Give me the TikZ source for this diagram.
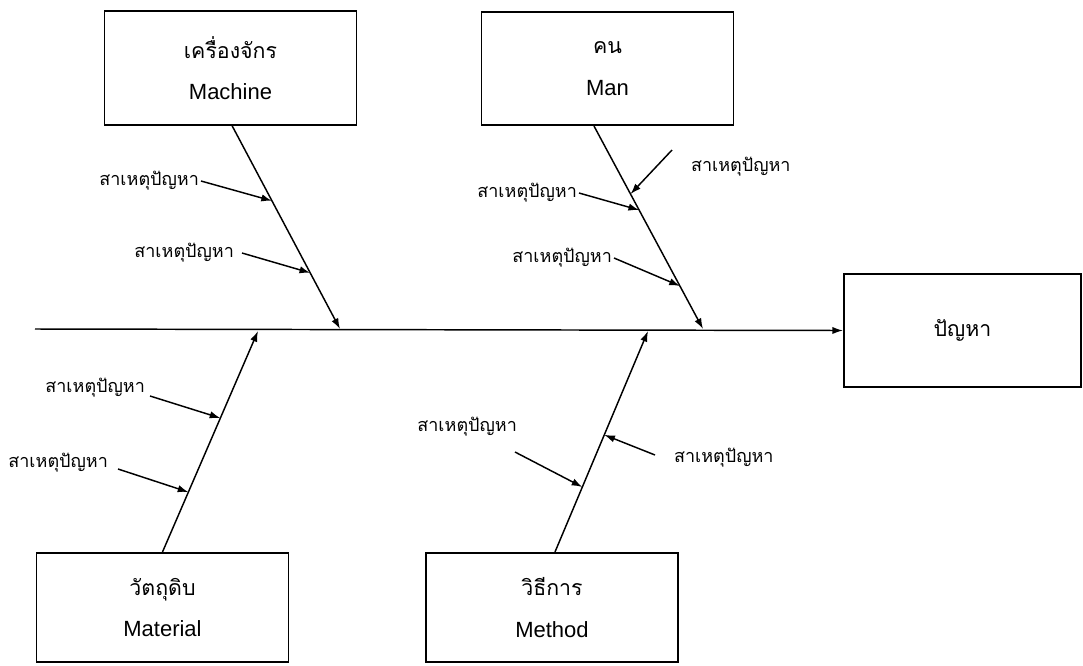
\documentclass[tikz,border=0pt]{standalone}
\usepackage{fontspec}
\usetikzlibrary{arrows.meta}
\setmainfont{Liberation Sans}
\newfontfamily\thaifont[Script=Thai]{Loma}
\begin{document}
\begin{tikzpicture}[x=0.75pt,y=-0.75pt,line width=1.1pt,>={Latex[length=8pt,width=5.5pt]},auto]
  \tikzstyle{block}=[draw,rectangle,line width=1.3pt,minimum width=189pt,minimum height=85pt,align=center,font=\fontsize{16.5}{20}\selectfont]
  \tikzstyle{cause}=[inner sep=1pt,font=\thaifont\fontsize{13.5}{15}\selectfont]
  \def\spy{329}	% height of the spine
  \def\thai#1{{\thaifont\fontsize{16}{20}\selectfont #1}}
  \useasboundingbox (0,0) rectangle (1083,665);

  \node[block] (machine) at (230.5,68) {\thai{เครื่องจักร}\\[11pt]Machine};
  \node[block] (man) at (607.5,68.5) {\thai{คน}\\[11pt]Man};
  \node[block,minimum height=82pt] (material) at (162.5,607.5) {\thai{วัตถุดิบ}\\[11pt]Material};
  \node[block,minimum height=82pt] (method) at (552,607.5) {\thai{วิธีการ}\\[11pt]Method};
  \node[block,minimum width=178pt] (problem) at (962.5,330.5) {\thai{ปัญหา}};

  % spine and bones
  \coordinate (tail) at (35,\spy);
  \coordinate (mtip) at (340,\spy);
  \coordinate (ntip) at (703,\spy);
  \coordinate (ptip) at (258,\spy+2);
  \coordinate (qtip) at (648,\spy+2);
  \draw[->] (tail) -- (problem.west);
  \draw[->] (machine.south) ++(1.5,0) -- coordinate[pos=.37] (m1) coordinate[pos=.724] (m2) (mtip);
  \draw[->] (man.south) ++(-13.5,0) -- coordinate[pos=.335] (n0) coordinate[pos=.414] (n1) coordinate[pos=.788] (n2) (ntip);
  \draw[->] (material.north) -- coordinate[pos=.271] (p2) coordinate[pos=.606] (p1) (ptip);
  \draw[->] (method.north) ++(3,0) -- coordinate[pos=.294] (q1) coordinate[pos=.53] (q2) (qtip);

  % causes
  \node[cause,anchor=east] (mc1) at (201,181) {สาเหตุปัญหา};
  \node[cause,anchor=east] (mc2) at (236,253) {สาเหตุปัญหา};
  \node[cause,anchor=east] (nc1) at (579,193) {สาเหตุปัญหา};
  \node[cause,anchor=east] (nc2) at (614,258) {สาเหตุปัญหา};
  \node[cause,anchor=west] (nc3) at (689,167) {สาเหตุปัญหา};
  \node[cause,anchor=east] (pc1) at (147,388) {สาเหตุปัญหา};
  \node[cause,anchor=east] (pc2) at (110,463) {สาเหตุปัญหา};
  \node[cause,anchor=east] (qc1) at (519,427) {สาเหตุปัญหา};
  \node[cause,anchor=west] (qc2) at (672,458) {สาเหตุปัญหา};
  \coordinate (nf) at (672,150);
  \coordinate (qf1) at (515,452);
  \coordinate (qf2) at (655,455);

  \draw[->] (mc1.east) -- (m1);
  \draw[->] (mc2.east) ++(6,0) -- (m2);
  \draw[->] (nc1.east) -- (n1);
  \draw[->] (nc2.east) -- (n2);
  \draw[->] (nf) -- (n0);
  \draw[->] (pc1.east) ++(3,8) -- (p1);
  \draw[->] (pc2.east) ++(8,6) -- (p2);
  \draw[->] (qf1) -- (q1);
  \draw[->] (qf2) -- (q2);
\end{tikzpicture}
\end{document}
